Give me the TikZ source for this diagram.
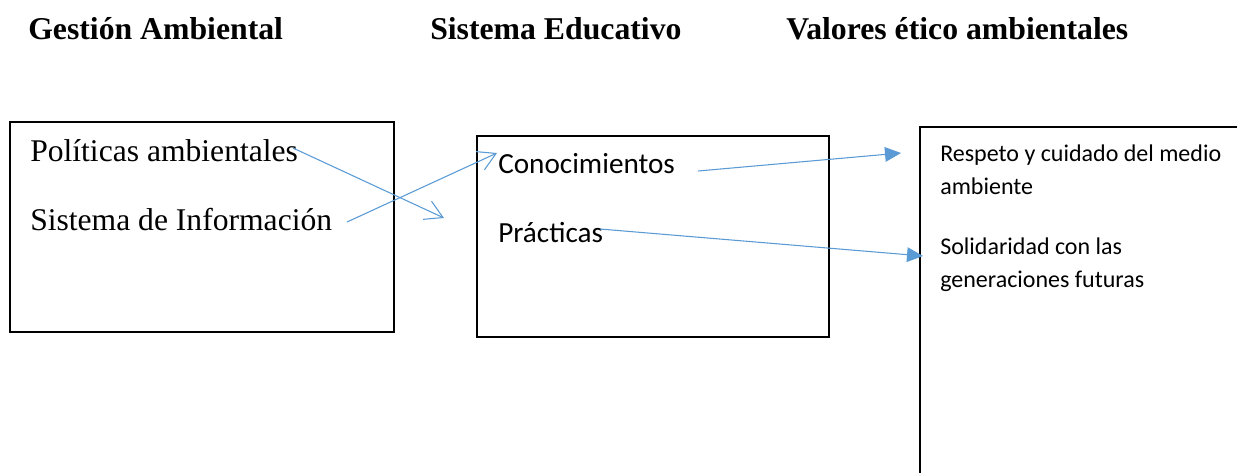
\documentclass[tikz,border=0pt]{standalone}
\usepackage{fontspec}
\setmainfont{Liberation Serif}
\newfontfamily\calibri{Carlito}
\usetikzlibrary{arrows.meta}
\definecolor{wordblue}{HTML}{5B9BD5}
\begin{document}
\begin{tikzpicture}[x=0.75pt,y=-0.75pt,
  title/.style={font=\fontsize{23.8}{28}\selectfont\bfseries, anchor=base west, inner sep=0pt},
  serif/.style={font=\fontsize{23.7}{28}\selectfont, anchor=base west, inner sep=0pt},
  sans/.style={font=\calibri\fontsize{21.9}{26}\selectfont, anchor=base west, inner sep=0pt},
  small/.style={font=\calibri\fontsize{18}{24}\selectfont, anchor=base west, inner sep=0pt},
  box/.style={draw=black, line width=0.85pt},
  openarrow/.style={draw=wordblue, line width=0.8pt, -{Straight Barb[length=13pt,width=15pt]}},
  fillarrow/.style={draw=wordblue, line width=0.8pt, -{Triangle[length=12pt,width=11pt]}}]
\useasboundingbox (0,0) rectangle (1237,472);
\fill[white] (0,0) rectangle (1237,472);

% titles
\node[title] (t1) at (28,39) {Gestión Ambiental};
\node[title] (t2) at (430,39) {Sistema Educativo};
\node[title] (t3) at (786,39) {Valores ético ambientales};

% boxes
\draw[box] (10,122) rectangle (394,332);
\draw[box] (477,136) rectangle (829,337);
\draw[box] (1245,127) -- (920,127) -- (920,480);

% left box text
\node[serif] (pol) at (30,161) {Políticas ambientales};
\node[serif] (sis) at (30,230) {Sistema de Información};

% middle box text
\node[sans] (con) at (498,173) {Conocimientos};
\node[sans] (pra) at (498,242) {Prácticas};

% right box text
\node[small] (r1) at (940,161) {Respeto y cuidado del medio};
\node[small] (r2) at (940,194) {ambiente};
\node[small] (r3) at (940,254) {Solidaridad con las};
\node[small] (r4) at (940,287) {generaciones futuras};

% connector endpoints
\coordinate (a1s) at (293,148);
\coordinate (a1e) at (444,218);
\coordinate (a2s) at (347,222);
\coordinate (a2e) at (497,153);
\coordinate (a3s) at (698,171);
\coordinate (a3e) at (901,153);
\coordinate (a4s) at (600,229);
\coordinate (a4e) at (923,256);

\draw[openarrow] (a1s) -- (a1e);
\draw[openarrow] (a2s) -- (a2e);
\draw[fillarrow] (a3s) -- (a3e);
\draw[fillarrow] (a4s) -- (a4e);
\end{tikzpicture}
\end{document}
